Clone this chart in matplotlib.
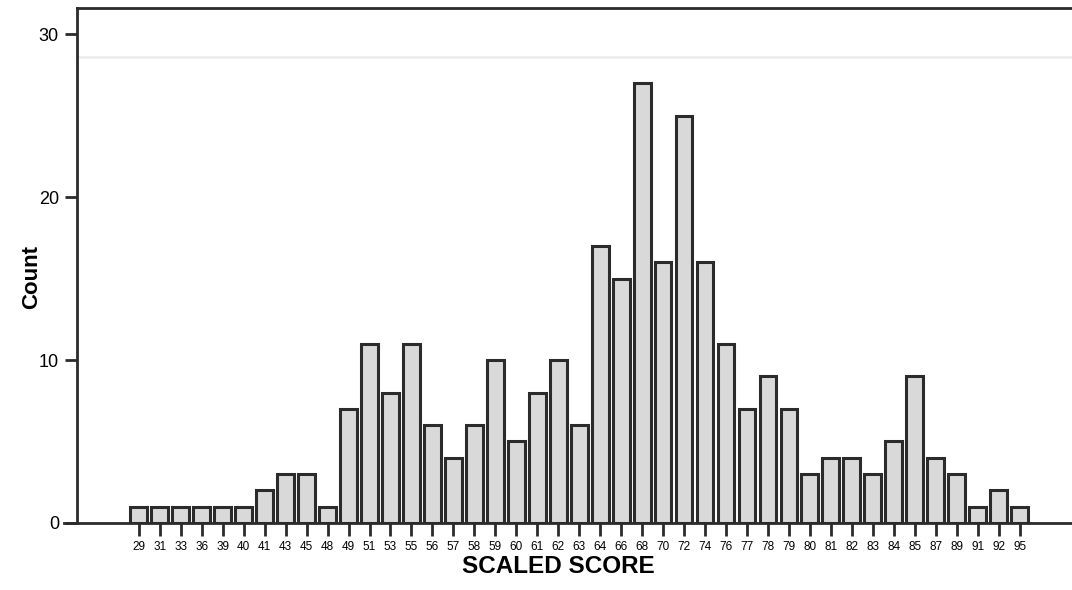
import matplotlib
matplotlib.use("Agg")
import matplotlib.pyplot as plt
import numpy as np

plt.rcParams['font.family'] = ['Liberation Sans', 'DejaVu Sans']

scores = ["29", "31", "33", "36", "39", "40", "41", "43", "45", "48", "49", "51",
          "53", "55", "56", "57", "58", "59", "60", "61", "62", "63", "64", "66",
          "68", "70", "72", "74", "76", "77", "78", "79", "80", "81", "82", "83",
          "84", "85", "87", "89", "91", "92", "95"]
counts = [1, 1, 1, 1, 1, 1, 2, 3, 3, 1, 7, 11,
          8, 11, 6, 4, 6, 10, 5, 8, 10, 6, 17, 15,
          27, 16, 25, 16, 11, 7, 9, 7, 3, 4, 4, 3,
          5, 9, 4, 3, 1, 2, 1]
y_ticks = [0, 10, 20, 30]

fig = plt.figure(figsize=(10.72, 5.90), dpi=100)
ax = fig.add_axes([0.0718, 0.1136, 0.9282, 0.8728])

x = np.arange(len(scores))
ax.bar(x, counts, width=0.8, color="#d9d9d9", edgecolor="#2b2b2b", linewidth=2.2, zorder=3)

ax.set_xlim(-2.95, len(scores) + 1.5)
ax.set_ylim(0, 31.6)

ax.axhline(28.6, color="#ececec", linewidth=2, zorder=1)
# baseline extends slightly left of the y axis
ax.plot([-3.55, -2.95], [0, 0], color="#2b2b2b", linewidth=2, clip_on=False)

ax.set_xticks(x)
ax.set_xticklabels(scores, fontsize=8.5)
ax.set_yticks(y_ticks)
ax.set_yticklabels([str(v) for v in y_ticks], fontsize=13)

ax.tick_params(axis='x', direction='out', length=9, width=2, color="#2b2b2b", pad=4)
ax.tick_params(axis='y', direction='out', length=9, width=2, color="#2b2b2b", pad=4)

for s in ['left', 'bottom', 'top']:
    ax.spines[s].set_linewidth(2)
    ax.spines[s].set_color("#2b2b2b")
ax.spines['right'].set_visible(False)

ax.set_xlabel("SCALED SCORE", fontsize=17.5, fontweight='bold')
ax.xaxis.set_label_coords((558 - 77) / 995, -(567 - 523) / 515, transform=ax.transAxes)
ax.set_ylabel("Count", fontsize=16, fontweight='bold')
ax.yaxis.set_label_coords(-(77 - 32) / 995, (523 - 277) / 515, transform=ax.transAxes)
ax.xaxis.label.set_va('center')
ax.yaxis.label.set_va('center')

fig.savefig("out.png", dpi=100)
